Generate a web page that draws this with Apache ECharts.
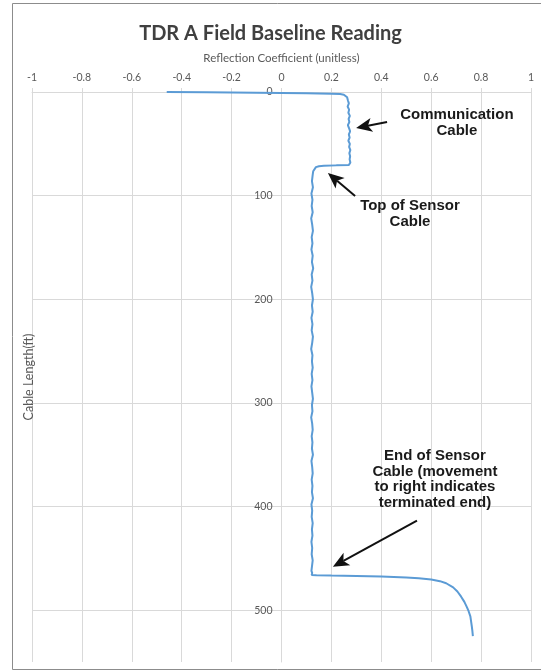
<!DOCTYPE html>
<html>
<head>
<meta charset="utf-8">
<script src="https://cdn.jsdelivr.net/npm/echarts@6/dist/echarts.min.js"></script>
<style>
  html, body { margin: 0; padding: 0; background: #fff; }
  #chart { width: 541px; height: 672px; }
</style>
</head>
<body>
<div id="chart"></div>
<script>
// TDR trace: reflection coefficient against cable length (ft)
const reflection = [
  -0.46, -0.30, -0.10, 0.00, 0.10, 0.20, 0.235, 0.25, 0.258, 0.263,
  0.266, 0.270, 0.265, 0.271, 0.268, 0.274, 0.269, 0.272, 0.266, 0.271,
  0.275, 0.270, 0.273, 0.268, 0.274, 0.271, 0.276, 0.272, 0.275, 0.273,
  0.276, 0.275,
  0.270, 0.220, 0.170, 0.150, 0.138, 0.131, 0.127, 0.125,
  0.122, 0.126, 0.120, 0.124, 0.121, 0.125, 0.119, 0.123, 0.126, 0.121,
  0.124, 0.120, 0.125, 0.122, 0.127, 0.121, 0.124, 0.119, 0.123, 0.126,
  0.122, 0.125, 0.120, 0.124, 0.121, 0.126, 0.123, 0.119, 0.124, 0.122,
  0.125, 0.121, 0.124, 0.120, 0.123, 0.126, 0.122, 0.124, 0.119, 0.123,
  0.125, 0.121, 0.124, 0.122, 0.126, 0.120, 0.123, 0.125, 0.121, 0.124,
  0.122, 0.126, 0.120, 0.123, 0.121, 0.125, 0.122, 0.124, 0.120, 0.123,
  0.121, 0.125, 0.122, 0.120, 0.123, 0.121,
  0.140, 0.200, 0.300, 0.400, 0.500, 0.550, 0.600, 0.635, 0.660, 0.688,
  0.705, 0.720, 0.733, 0.743, 0.750, 0.757, 0.760, 0.763, 0.765, 0.767
];
const depthFt = [
  0, 0.3, 0.7, 1.0, 1.3, 1.7, 2.0, 2.6, 3.5, 5,
  8, 11, 14, 17, 20, 23, 26, 29, 32, 35,
  38, 41, 44, 47, 50, 53, 56, 59, 62, 65,
  68, 69.5,
  70.5, 70.8, 71.2, 71.6, 72.5, 74, 76.5, 80,
  86, 92, 98, 104, 110, 116, 122, 128, 134, 140,
  146, 152, 158, 164, 170, 176, 182, 188, 194, 200,
  206, 212, 218, 224, 230, 236, 242, 248, 254, 260,
  266, 272, 278, 284, 290, 296, 302, 308, 314, 320,
  326, 332, 338, 344, 350, 356, 362, 368, 374, 380,
  386, 392, 398, 404, 410, 416, 422, 428, 434, 440,
  446, 452, 458, 462, 464, 466,
  466.3, 466.6, 467, 467.6, 468.5, 469.3, 470.5, 472, 474, 478,
  482, 487, 492, 497, 501, 506, 511, 516, 520, 525
];
const xTicks = { min: -1, max: 1, step: 0.2 };
const yTicks = { min: 0, max: 550, step: 100 };

// Callouts: text block anchor and arrow (tail -> head), in data units
const callouts = [
  { text: 'Communication\nCable', at: [0.703, 29.9], tail: [0.423, 28.9], head: [0.299, 34.7] },
  { text: 'Top of Sensor\nCable', at: [0.515, 117.6], tail: [0.295, 100.3], head: [0.186, 78.1] },
  { text: 'End of Sensor\nCable (movement\nto right indicates\nterminated end)', at: [0.615, 374], tail: [0.543, 413.7], head: [0.206, 458] }
];

const trace = reflection.map((r, i) => [r, depthFt[i]]);

const chart = echarts.init(document.getElementById('chart'), null, { renderer: 'canvas' });
const gridColor = '#d9d9d9';
const labelColor = '#595959';
const baseFont = 'Lato, "Open Sans", sans-serif';
const gridLeft = 32;

chart.setOption({
  backgroundColor: '#ffffff',
  animation: false,
  title: {
    text: 'TDR A Field Baseline Reading',
    left: 'center',
    top: 19,
    textStyle: { fontFamily: baseFont, fontSize: 20, fontWeight: 'bold', color: '#404040' }
  },
  grid: { left: gridLeft, right: 10, top: 92, bottom: 10, containLabel: false, outerBoundsMode: 'none' },
  xAxis: {
    type: 'value',
    position: 'top',
    min: xTicks.min, max: xTicks.max, interval: xTicks.step,
    name: 'Reflection Coefficient (unitless)',
    nameLocation: 'middle',
    nameGap: 28,
    nameTextStyle: { fontFamily: baseFont, fontSize: 11.5, color: labelColor },
    axisLine: { onZero: false, show: true, lineStyle: { color: gridColor } },
    axisTick: { show: true, length: 4, lineStyle: { color: gridColor } },
    axisLabel: { fontFamily: baseFont, fontSize: 10.5, color: labelColor, margin: 9 },
    splitLine: { show: true, lineStyle: { color: gridColor } }
  },
  yAxis: {
    type: 'value',
    inverse: true,
    min: yTicks.min, max: yTicks.max, interval: yTicks.step,
    name: 'Cable Length(ft)',
    nameLocation: 'middle',
    nameRotate: 90,
    nameGap: 248,
    nameTextStyle: { fontFamily: baseFont, fontSize: 12.5, color: labelColor },
    axisLine: { onZero: false, show: true, lineStyle: { color: gridColor } },
    axisTick: { show: false },
    axisLabel: { fontFamily: baseFont, fontSize: 10.5, color: labelColor, margin: 9, showMaxLabel: false },
    splitLine: { show: true, showMaxLine: false, lineStyle: { color: gridColor } }
  },
  series: [{
    type: 'line',
    data: trace,
    showSymbol: false,
    symbol: 'none',
    lineStyle: { color: '#5b9bd5', width: 2 },
    z: 3
  }]
});

// Move the depth axis so it crosses at reflection coefficient 0
const zeroX = chart.convertToPixel({ xAxisIndex: 0 }, 0);
chart.setOption({
  yAxis: { offset: -(zeroX - gridLeft), nameGap: zeroX - 35 }
});

// Place callout text and arrows from data coordinates
const graphics = [{
  type: 'rect',
  shape: { x: 12.5, y: 3.5, width: 532, height: 666 },
  style: { fill: null, stroke: '#8c8c8c', lineWidth: 1 },
  z: 10
}];
callouts.forEach(c => {
  const p = chart.convertToPixel({ gridIndex: 0 }, c.at);
  const t = chart.convertToPixel({ gridIndex: 0 }, c.tail);
  const h = chart.convertToPixel({ gridIndex: 0 }, c.head);
  graphics.push({
    type: 'text',
    x: p[0], y: p[1],
    style: {
      text: c.text,
      fill: '#1a1a1a',
      font: 'bold 15px "Liberation Sans", Arial, sans-serif',
      align: 'center',
      verticalAlign: 'middle',
      lineHeight: 15.5
    },
    z: 10
  });
  const ang = Math.atan2(h[1] - t[1], h[0] - t[0]);
  const headLen = 16, headHalf = 7;
  const bx = h[0] - headLen * Math.cos(ang), by = h[1] - headLen * Math.sin(ang);
  const nx = -Math.sin(ang), ny = Math.cos(ang);
  graphics.push({
    type: 'line',
    shape: { x1: t[0], y1: t[1], x2: bx + 4 * Math.cos(ang), y2: by + 4 * Math.sin(ang) },
    style: { stroke: '#111', lineWidth: 2 },
    z: 10
  });
  graphics.push({
    type: 'polygon',
    shape: { points: [
      [h[0], h[1]],
      [bx + headHalf * nx, by + headHalf * ny],
      [bx + 4 * Math.cos(ang), by + 4 * Math.sin(ang)],
      [bx - headHalf * nx, by - headHalf * ny]
    ] },
    style: { fill: '#111' },
    z: 10
  });
});
chart.setOption({ graphic: graphics });
</script>
</body>
</html>
